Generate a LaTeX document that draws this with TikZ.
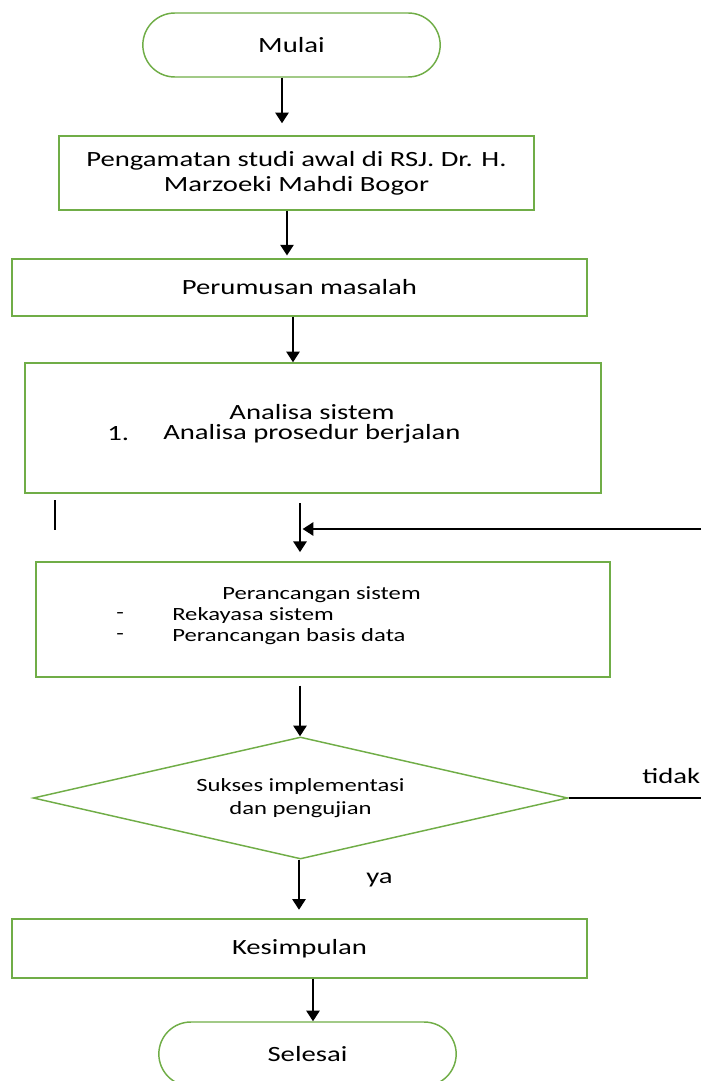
\documentclass[tikz,border=0pt]{standalone}
\usepackage{fontspec}
\setmainfont{Carlito}[FakeStretch=1.32]
\usetikzlibrary{arrows.meta,shapes.geometric}
\definecolor{hijau}{HTML}{70AD47}

\begin{document}
\begin{tikzpicture}[x=0.75pt, y=-0.75pt, >={Triangle[length=8pt, width=10pt]},
  box/.style={draw=hijau, line width=1.1pt, inner sep=0pt, align=center,
    font=\fontsize{16.3}{18.75}\selectfont},
  ujung/.style={box, minimum width=223pt, minimum height=48pt, rounded corners=24pt},
  teks/.style={inner sep=0pt, font=\fontsize{16.3}{18.75}\selectfont},
  kecil/.style={inner sep=0pt, font=\fontsize{14}{15.75}\selectfont},
  arr/.style={->, line width=1.3pt},
  garis/.style={line width=1.3pt}]
\clip (0,0) rectangle (701,1081);
\node[ujung] (mulai) at (291.5,45) {Mulai};
\node[box, minimum width=356pt, minimum height=55.5pt] (amat) at (296.5,173)
  {Pengamatan studi awal di RSJ. Dr. H.\\Marzoeki Mahdi Bogor};
\node[box, minimum width=431pt, minimum height=43pt] (rumus) at (299.5,287.5) {Perumusan masalah};
\node[box, minimum width=432pt, minimum height=97.5pt] (analisa) at (313,428) {};
\node[teks] (analisa-j) at (312,412) {Analisa sistem};
\node[teks, anchor=west] (analisa-n) at (107,434) {1.};
\node[teks, anchor=west] (analisa-i) at (163,434) {Analisa prosedur berjalan};
\node[box, minimum width=430.5pt, minimum height=86pt] (rancang) at (323,619.5) {};
\node[kecil] (rancang-j) at (321.5,595) {Perancangan sistem};
\node[kecil, anchor=west] (rancang-d1) at (116,616) {-};
\node[kecil, anchor=west] (rancang-a) at (172,616) {Rekayasa sistem};
\node[kecil, anchor=west] (rancang-d2) at (116,637) {-};
\node[kecil, anchor=west] (rancang-b) at (172,637) {Perancangan basis data};
\node[box, diamond, aspect=4.385, minimum width=401pt, minimum height=91.5pt,
  font=\fontsize{14}{17}\selectfont] (uji) at (300.5,798) {Sukses implementasi\\dan pengujian};
\node[box, minimum width=431pt, minimum height=44pt] (simpul) at (299.5,948.5) {Kesimpulan};
\node[ujung] (selesai) at (307.5,1054) {Selesai};
\node[teks, anchor=west] (tidak) at (642,776) {tidak};
\node[teks, anchor=west] (ya) at (366,880) {ya};
\coordinate (k1) at (282,0);
\coordinate (k2) at (287,0);
\coordinate (k3) at (293,0);
\coordinate (k4) at (300,0);
\coordinate (k5) at (300,0);
\coordinate (k6) at (299,0);
\coordinate (k7) at (313,0);
\coordinate (balik) at (701,529);
\coordinate (keluar) at (701,798);
\coordinate (sisa) at (55,500);
\draw[arr, shorten >=9pt] (k1 |- mulai.south) -- (k1 |- amat.north);
\draw[arr, shorten >=2pt] (k2 |- amat.south) -- (k2 |- rumus.north);
\draw[arr] (k3 |- rumus.south) -- (k3 |- analisa.north);
\draw[arr, shorten <=7pt, shorten >=7pt] (k4 |- analisa.south) -- (k4 |- rancang.north);
\draw[arr, shorten <=6pt] (k5 |- rancang.south) -- (k5 |- uji.north);
\draw[arr, shorten >=6.5pt] (k6 |- uji.south) -- (k6 |- simpul.north);
\draw[arr] (k7 |- simpul.south) -- (k7 |- selesai.north);
\draw[arr, shorten >=2pt] (balik) -- (k4 |- balik);
\draw[garis] (uji.east) -- (keluar);
\draw[garis] (sisa) -- ++(0,30);
\end{tikzpicture}
\end{document}
